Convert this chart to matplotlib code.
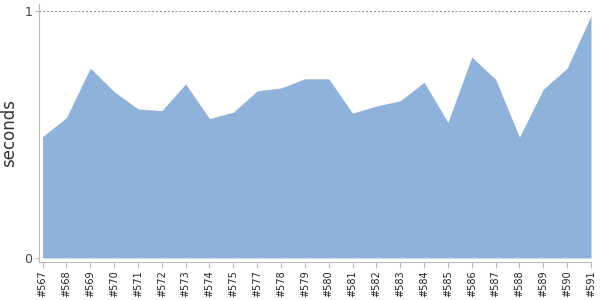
import matplotlib
matplotlib.use('Agg')
import matplotlib.pyplot as plt
import numpy as np

# build labels and durations (seconds)
builds = ['#567', '#568', '#569', '#570', '#571', '#572', '#573', '#574',
          '#575', '#577', '#578', '#579', '#580', '#581', '#582', '#583',
          '#584', '#585', '#586', '#587', '#588', '#589', '#590', '#591']
seconds = [0.491, 0.568, 0.768, 0.673, 0.603, 0.596, 0.704, 0.564,
           0.590, 0.676, 0.688, 0.725, 0.725, 0.586, 0.615, 0.636,
           0.711, 0.549, 0.813, 0.723, 0.489, 0.683, 0.768, 0.980]

fig = plt.figure(figsize=(6, 3), dpi=100)
ax = fig.add_axes([0.065, 0.127, 0.92, 0.86])

x = np.arange(len(builds))
ax.fill_between(x, 0, seconds, color='#8fb2db', linewidth=0)
ax.axhline(1, color='#888888', linestyle=(0, (2, 2)), linewidth=0.7)

ax.set_xlim(-0.15, len(builds) - 1)
ax.set_ylim(-0.016, 1.028)
ax.set_xticks(x)
ax.set_xticklabels(builds, rotation=90, fontsize=7, color='#222222')
ax.set_yticks([0, 1])
ax.set_yticklabels(['0', '1'], fontsize=9, color='#444444')
ax.set_ylabel('seconds', fontsize=12, color='#333333', labelpad=4)

for side in ['top', 'right']:
    ax.spines[side].set_visible(False)
for side in ['left', 'bottom']:
    ax.spines[side].set_color('#bbbbbb')
ax.tick_params(axis='x', length=4, color='#bbbbbb', pad=2)
ax.tick_params(axis='y', length=3, color='#bbbbbb', pad=2)

plt.savefig('out.png', dpi=100)
plt.close()
